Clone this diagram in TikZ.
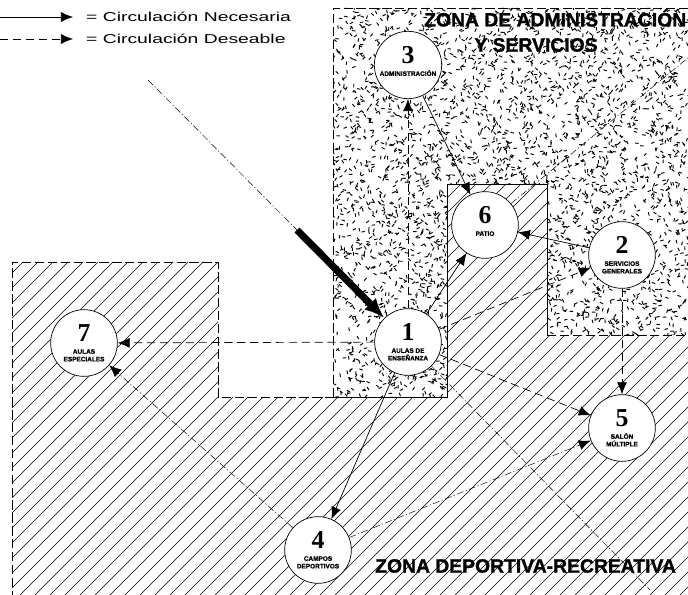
\documentclass[tikz,border=0pt]{standalone}
\usepackage{fontspec}
\setmainfont{Liberation Sans}
\newfontfamily\numfont{Liberation Serif}
\newfontfamily\heavyfont{Liberation Sans}[BoldFeatures={FakeBold=1.2}]
\usetikzlibrary{arrows.meta, positioning, calc}

\begin{document}
\begin{tikzpicture}[
    x=0.03cm, y=-0.03cm,
    % --- Zone Circles ---
    zone/.style={
        draw=black,
        fill=white,
        circle,
        semithick,
        minimum size=2cm,
        inner sep=0pt,
        align=center,
        font=\fontsize{5.5}{6.5}\selectfont\heavyfont\bfseries
    },
    % --- Circulation Arrows ---
    necesaria/.style={
        -{Latex[length=3.6mm, width=3mm]},
        semithick
    },
    deseable/.style={
        -{Latex[length=3.6mm, width=3mm]},
        semithick,
        dash pattern=on 7pt off 4pt
    },
    secundaria/.style={
        -{Latex[length=3.6mm, width=3mm]},
        thin,
        dash pattern=on 6pt off 2pt on 1pt off 2pt
    },
    salida/.style={
        thin,
        dash pattern=on 6pt off 2pt on 1pt off 2pt
    },
    acceso/.style={
        -{Latex[length=6mm, width=5mm]},
        line width=6pt
    },
    % --- Zone Areas ---
    zone border/.style={
        semithick,
        dash pattern=on 8pt off 3pt
    },
    hatch line/.style={
        thin
    },
    speck/.style={
        line width=0.8pt
    },
    % --- Text Labels ---
    zone title/.style={
        font=\fontsize{16.5}{17}\selectfont\heavyfont\bfseries,
        inner sep=0pt
    },
    legend text/.style={
        font=\fontsize{11}{12}\selectfont,
        inner sep=0pt
    }
]

    \clip (0,0) rectangle (688,595);

    % =========================================
    % 1. ZONE AREAS
    % =========================================

    % Zona deportiva-recreativa (hatched)
    \begin{scope}
        \clip (12,262) -- (218,262) -- (218,397) -- (447,397) -- (447,184)
            -- (547,184) -- (547,335) -- (700,335) -- (700,600) -- (12,600) -- cycle;
        \foreach \c in {0,15,...,1320}
            \draw[hatch line] (\c,0) -- ++(-700,700);
    \end{scope}

    % Zona de administracion y servicios (stippled)
    \begin{scope}
        \clip (333,8) -- (700,8) -- (700,335) -- (547,335) -- (547,184)
            -- (447,184) -- (447,397) -- (333,397) -- cycle;
        \pgfmathsetseed{7}
        \foreach \i in {1,...,4200}{
            \pgfmathsetmacro{\px}{333+367*rnd}
            \pgfmathsetmacro{\py}{8+390*rnd}
            \pgfmathsetmacro{\pa}{360*rnd}
            \draw[speck] (\px,\py) -- ++(\pa:3.5);
        }
    \end{scope}

    % Borders
    \draw[zone border] (12,600) -- (12,262) -- (218,262) -- (218,397) -- (333,397);
    \draw[zone border] (333,397) -- (333,8) -- (700,8);
    \draw[zone border] (547,335) -- (700,335);
    \draw[semithick] (333,397) -- (447,397) -- (447,184) -- (547,184) -- (547,335);

    % =========================================
    % 2. LEGEND AND TITLES
    % =========================================

    \coordinate (legNa) at (0,17);
    \coordinate (legNb) at (73,17);
    \coordinate (legDa) at (0,39);
    \coordinate (legDb) at (73,39);
    \draw[necesaria] (legNa) -- (legNb);
    \draw[deseable] (legDa) -- (legDb);
    \node[legend text, anchor=west] (legN) at (86,17) {\scalebox{1.5}[1]{= Circulación Necesaria}};
    \node[legend text, anchor=west] (legD) at (86,39) {\scalebox{1.5}[1]{= Circulación Deseable}};

    \node[zone title, anchor=west] (titleAdmin) at (424,18) {ZONA DE ADMINISTRACIÓN};
    \node[zone title] (titleAdminB) at (536,45) {Y SERVICIOS};
    \node[zone title, anchor=west] (titleSport) at (375,566) {ZONA DEPORTIVA-RECREATIVA};

    % =========================================
    % 3. ZONES (CIRCLES)
    % =========================================

    \node[zone] (n1) at (408,342) {{\numfont\fontsize{22}{22}\selectfont 1}\\[4pt] AULAS DE\\ ENSEÑANZA};
    \node[zone] (n2) at (622,255) {{\numfont\fontsize{22}{22}\selectfont 2}\\[4pt] SERVICIOS\\ GENERALES};
    \node[zone] (n3) at (408,65) {{\numfont\fontsize{22}{22}\selectfont 3}\\[4pt] ADMINISTRACIÓN\\ \phantom{X}};
    \node[zone] (n4) at (318,550) {{\numfont\fontsize{22}{22}\selectfont 4}\\[4pt] CAMPOS\\ DEPORTIVOS};
    \node[zone] (n5) at (622,428) {{\numfont\fontsize{22}{22}\selectfont 5}\\[4pt] SALÓN\\ MÚLTIPLE};
    \node[zone] (n6) at (485,225) {{\numfont\fontsize{22}{22}\selectfont 6}\\[4pt] PATIO\\ \phantom{X}};
    \node[zone] (n7) at (84,343) {{\numfont\fontsize{22}{22}\selectfont 7}\\[4pt] AULAS\\ ESPECIALES};

    % =========================================
    % 4. CIRCULATION
    % =========================================

    % Main access
    \coordinate (entry) at (148,80);
    \coordinate (entryB) at (297,230);
    \draw[salida] (entry) -- (entryB);
    \draw[acceso] (entryB) -- (n1);

    % Exits to other zones
    \coordinate (exitNE) at (700,48);
    \coordinate (exitSE) at (650,590);
    \draw[salida] (n6) -- (exitNE);
    \draw[salida] (n1) -- (exitSE);

    % Necesaria
    \draw[necesaria] (n3) -- (n6);
    \draw[necesaria] (n1) -- (n6);
    \draw[necesaria] (n2) -- (n6);
    \draw[necesaria] (n1) -- (n4);

    % Deseable
    \draw[deseable] (n1) -- (n3);
    \draw[deseable] (n1) -- (n7);
    \draw[deseable] (n1) -- (n2);
    \draw[deseable] (n1) -- (n5);
    \draw[deseable] (n2) -- (n5);
    \draw[secundaria] (n4) -- (n7);
    \draw[secundaria] (n4) -- (n5);

\end{tikzpicture}
\end{document}
